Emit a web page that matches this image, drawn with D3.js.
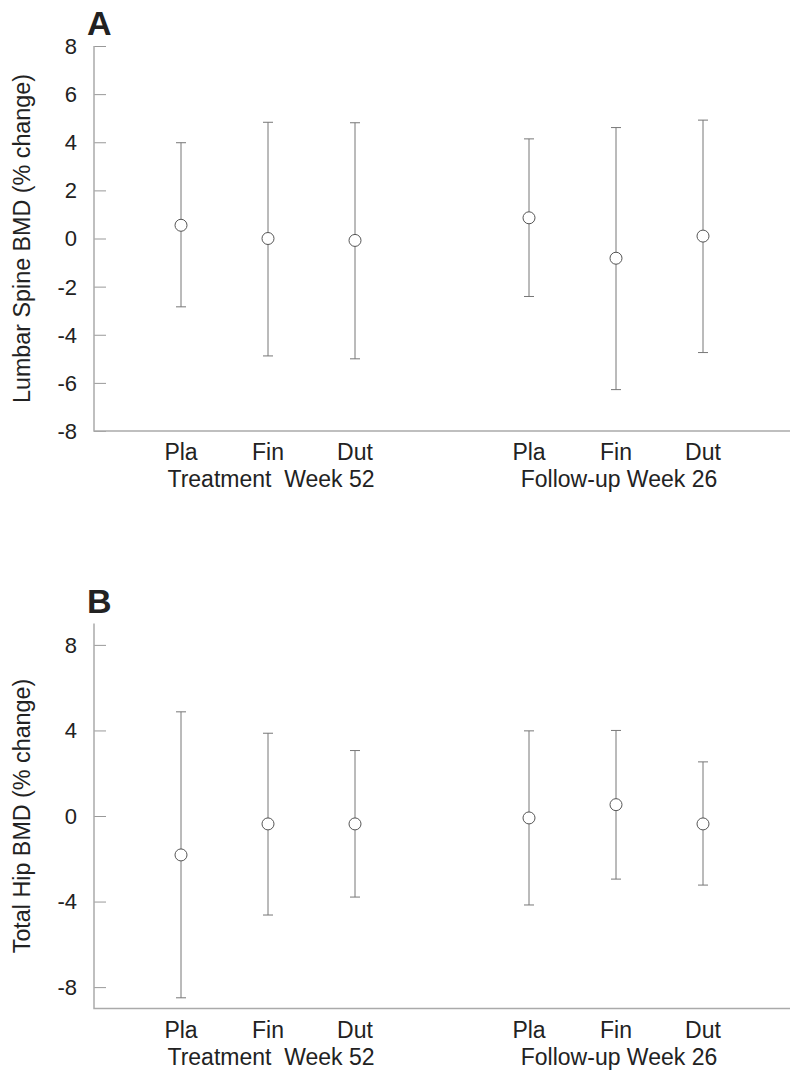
<!DOCTYPE html>
<html>
<head>
<meta charset="utf-8">
<script src="https://cdn.jsdelivr.net/npm/d3@7"></script>
<style>
  body { margin: 0; background: #fff; }
  svg { display: block; font-family: "Liberation Sans", Arial, sans-serif; }
</style>
</head>
<body>
<div id="chart"></div>
<script>
// groups on the x axis: position index (gap at 3 between the two periods)
const groups = ["Pla", "Fin", "Dut", "Pla", "Fin", "Dut"];
const slots = [0, 1, 2, 4, 5, 6];
const periods = ["Treatment  Week 52", "Follow-up Week 26"];

// panel A - lumbar spine
const spineMean = [0.55, 0.0, -0.08, 0.86, -0.82, 0.1];
const spineHigh = [3.98, 4.83, 4.81, 4.14, 4.61, 4.92];
const spineLow = [-2.84, -4.88, -5.0, -2.41, -6.28, -4.74];
const spineTicks = [8, 6, 4, 2, 0, -2, -4, -6, -8];

// panel B - total hip
const hipMean = [-1.82, -0.37, -0.37, -0.09, 0.53, -0.37];
const hipHigh = [4.87, 3.87, 3.06, 3.98, 4.0, 2.53];
const hipLow = [-8.5, -4.63, -3.79, -4.16, -2.95, -3.23];
const hipTicks = [8, 4, 0, -4, -8];

const width = 800, height = 1076;
const svg = d3.select("#chart").append("svg")
    .attr("width", width)
    .attr("height", height);

const x = d3.scaleLinear().domain([-1, 7]).range([94, 790]);

const drawPanel = (opt) => {
    const y = d3.scaleLinear().domain(opt.domain).range([opt.bottom, opt.top]);
    const g = svg.append("g");

    // y axis, ticks pointing inward
    g.append("g")
        .attr("transform", `translate(${x(-1)},0)`)
        .call(d3.axisRight(y).tickValues(opt.ticks).tickSize(12).tickFormat(""))
        .call(a => a.select(".domain").remove())
        .selectAll("line").attr("stroke", "#999").attr("stroke-width", 1);

    g.selectAll(".ylab")
        .data(opt.ticks)
        .join("text")
        .attr("x", 77)
        .attr("y", d => y(d))
        .attr("dy", "0.36em")
        .attr("text-anchor", "end")
        .attr("font-size", 22)
        .attr("fill", "#222")
        .text(d => d);

    // axis frame: left and bottom
    g.append("path")
        .attr("fill", "none")
        .attr("stroke", "#aaa")
        .attr("stroke-width", 1.5)
        .attr("d", d3.line()([[x(-1), y(opt.domain[1])], [x(-1), y(opt.domain[0])], [x(7), y(opt.domain[0])]]));

    // error bars
    const bars = g.selectAll(".bar")
        .data(opt.mean.map((m, i) => ({m: m, hi: opt.high[i], lo: opt.low[i], s: slots[i]})))
        .join("g")
        .attr("stroke", "#777")
        .attr("stroke-width", 1);

    bars.append("line")
        .attr("x1", d => x(d.s)).attr("x2", d => x(d.s))
        .attr("y1", d => y(d.hi)).attr("y2", d => y(d.lo));
    bars.append("line")
        .attr("x1", d => x(d.s) - 5).attr("x2", d => x(d.s) + 5)
        .attr("y1", d => y(d.hi)).attr("y2", d => y(d.hi));
    bars.append("line")
        .attr("x1", d => x(d.s) - 5).attr("x2", d => x(d.s) + 5)
        .attr("y1", d => y(d.lo)).attr("y2", d => y(d.lo));
    bars.append("circle")
        .attr("cx", d => x(d.s))
        .attr("cy", d => y(d.m))
        .attr("r", 6)
        .attr("fill", "#fff")
        .attr("stroke", "#555");

    // category + period labels
    const base = y(opt.domain[0]);
    g.selectAll(".xlab")
        .data(groups)
        .join("text")
        .attr("x", (d, i) => x(slots[i]))
        .attr("y", base + 29)
        .attr("text-anchor", "middle")
        .attr("font-size", 23)
        .attr("fill", "#222")
        .text(d => d);
    g.selectAll(".plab")
        .data(periods)
        .join("text")
        .attr("x", (d, i) => x(i === 0 ? 1 : 5) + 3)
        .attr("y", base + 56)
        .attr("text-anchor", "middle")
        .attr("font-size", 23)
        .attr("fill", "#222")
        .style("white-space", "pre")
        .text(d => d);

    // y title
    g.append("text")
        .attr("transform", `translate(30,${(y(opt.domain[0]) + y(opt.domain[1])) / 2}) rotate(-90)`)
        .attr("text-anchor", "middle")
        .attr("font-size", 23.3)
        .attr("fill", "#222")
        .text(opt.title);

    // panel letter
    g.append("text")
        .attr("x", 87)
        .attr("y", opt.top - 11)
        .attr("font-size", 34)
        .attr("font-weight", "bold")
        .attr("fill", "#222")
        .text(opt.letter);
};

drawPanel({letter: "A", title: "Lumbar Spine BMD (% change)", domain: [-8, 8], top: 46, bottom: 431,
    ticks: spineTicks, mean: spineMean, high: spineHigh, low: spineLow});
drawPanel({letter: "B", title: "Total Hip BMD (% change)", domain: [-9, 9], top: 623.5, bottom: 1008.5,
    ticks: hipTicks, mean: hipMean, high: hipHigh, low: hipLow});
</script>
</body>
</html>
